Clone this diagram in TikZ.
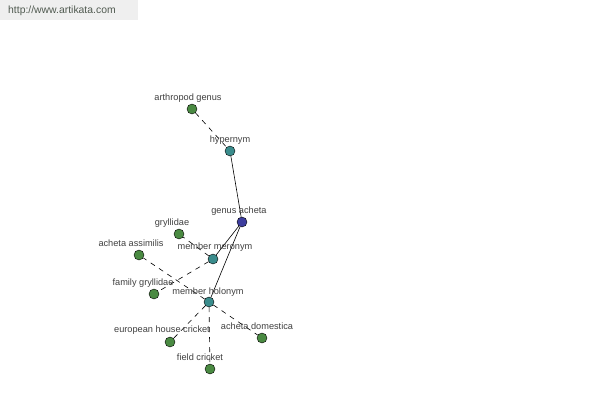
\documentclass[tikz,border=0pt]{standalone}
\usepackage{fontspec}
\setmainfont{Liberation Sans}
\definecolor{cgreen}{HTML}{4A8A42}
\definecolor{cteal}{HTML}{3A8C8C}
\definecolor{cnavy}{HTML}{3D3D9E}
\definecolor{ctext}{HTML}{404040}
\definecolor{chead}{HTML}{EFEFEF}
\definecolor{cheadtext}{HTML}{505A50}
\tikzset{
  dot/.style={circle, draw=black, line width=0.4pt, minimum size=10pt, inner sep=0pt},
  leaf/.style={dot, fill=cgreen},
  rel/.style={dot, fill=cteal},
  root/.style={dot, fill=cnavy},
  lbl/.style={font=\fontsize{9.2}{10}\selectfont, text=ctext, inner sep=0pt},
  solidedge/.style={draw=black, line width=0.6pt},
  dashedge/.style={draw=black, line width=0.6pt, dash pattern=on 5pt off 5pt},
}
\begin{document}
\begin{tikzpicture}[x=1pt,y=-1pt]
\useasboundingbox (0,0) rectangle (600,400);
\fill[white] (0,0) rectangle (600,400);
\fill[chead] (0,0) rectangle (138,20);
\node[font=\fontsize{10.4}{11}\selectfont, text=cheadtext, anchor=west, inner sep=0pt] (url) at (8,11) {http://www.artikata.com};
% nodes
\node[leaf] (ag) at (192,109) {};
\node[rel] (hyp) at (230,151) {};
\node[root] (ga) at (242,222) {};
\node[leaf] (gry) at (179,234) {};
\node[leaf] (aa) at (139,255) {};
\node[rel] (mm) at (213,259) {};
\node[leaf] (fg) at (154,294) {};
\node[rel] (mh) at (209,302) {};
\node[leaf] (ehc) at (170,342) {};
\node[leaf] (ad) at (262,338) {};
\node[leaf] (fc) at (210,369) {};
% edges
\draw[dashedge] (ag) -- (hyp);
\draw[solidedge] (hyp) -- (ga);
\draw[solidedge] (ga) -- (mm);
\draw[solidedge] (ga) -- (mh);
\draw[dashedge] (mm) -- (gry);
\draw[dashedge] (mm) -- (fg);
\draw[dashedge] (mh) -- (aa);
\draw[dashedge] (mh) -- (ehc);
\draw[dashedge] (mh) -- (fc);
\draw[dashedge] (mh) -- (ad);
% labels
\node[lbl] (lag) at (188,98) {arthropod genus};
\node[lbl] (lhyp) at (230,140) {hypernym};
\node[lbl] (lga) at (239,211) {genus acheta};
\node[lbl] (lgry) at (172,223) {gryllidae};
\node[lbl] (laa) at (131,243) {acheta assimilis};
\node[lbl] (lmm) at (215,247) {member meronym};
\node[lbl] (lfg) at (143,283) {family gryllidae};
\node[lbl] (lmh) at (208,292) {member holonym};
\node[lbl] (lehc) at (162,330) {european house cricket};
\node[lbl] (lad) at (257,326) {acheta domestica};
\node[lbl] (lfc) at (200,357) {field cricket};
\end{tikzpicture}
\end{document}
